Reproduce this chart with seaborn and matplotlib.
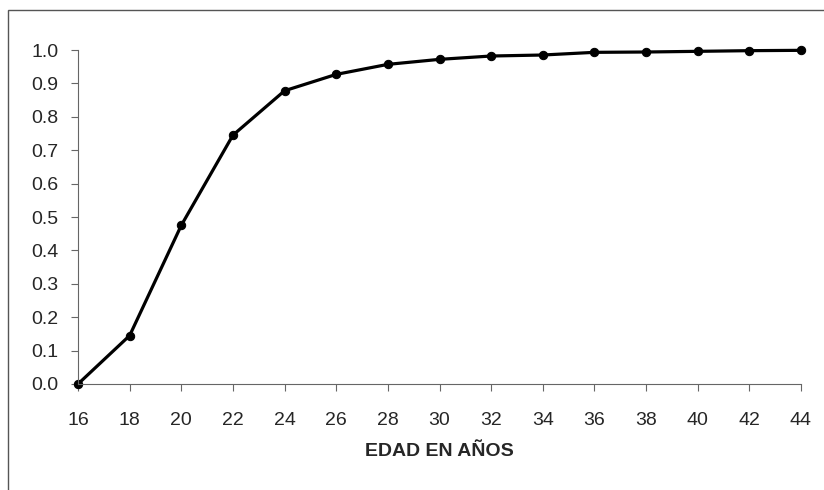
import matplotlib
matplotlib.use('Agg')
import matplotlib.pyplot as plt
import matplotlib.patches as patches
import pandas as pd
import seaborn as sns

# Data
edad = [16, 18, 20, 22, 24, 26, 28, 30, 32, 34, 36, 38, 40, 42, 44]
proporcion = [0.0, 0.145, 0.475, 0.745, 0.878, 0.927, 0.957, 0.972,
              0.982, 0.985, 0.993, 0.994, 0.996, 0.998, 0.999]
y_ticks = [0.0, 0.1, 0.2, 0.3, 0.4, 0.5, 0.6, 0.7, 0.8, 0.9, 1.0]

df = pd.DataFrame({'edad': edad, 'proporcion': proporcion})

sns.set_style('white')
plt.rcParams['font.family'] = ['Liberation Sans', 'DejaVu Sans']

fig = plt.figure(figsize=(8.24, 4.9), dpi=100)
ax = fig.add_axes([78 / 824, 1 - 384 / 490, (801 - 78) / 824, (384 - 50) / 490])

# outer chart frame
frame = patches.Rectangle((8 / 824, -0.1), 1.2, 1 - 10 / 490 + 0.1,
                          transform=fig.transFigure, fill=False,
                          edgecolor='#555555', linewidth=1.0)
fig.patches.append(frame)

sns.lineplot(data=df, x='edad', y='proporcion', ax=ax, color='black',
             linewidth=2.3, marker='o', markersize=6, markeredgecolor='black',
             clip_on=False)

ax.set_xlim(16, 44)
ax.set_ylim(0, 1.0)
ax.set_xticks(edad)
ax.set_yticks(y_ticks)
ax.set_yticklabels([f'{v:.1f}' for v in y_ticks])
ax.tick_params(axis='both', labelsize=14, length=5, width=0.8,
               color='#666666', direction='out', bottom=True, left=True)
ax.tick_params(axis='x', pad=15)
ax.tick_params(axis='y', pad=9)
ax.set_xlabel('EDAD EN AÑOS', fontsize=14, fontweight='bold', labelpad=10)
ax.set_ylabel('')

for s in ['top', 'right']:
    ax.spines[s].set_visible(False)
for s in ['left', 'bottom']:
    ax.spines[s].set_color('#666666')
    ax.spines[s].set_linewidth(0.8)

fig.savefig('out.png', dpi=100)
